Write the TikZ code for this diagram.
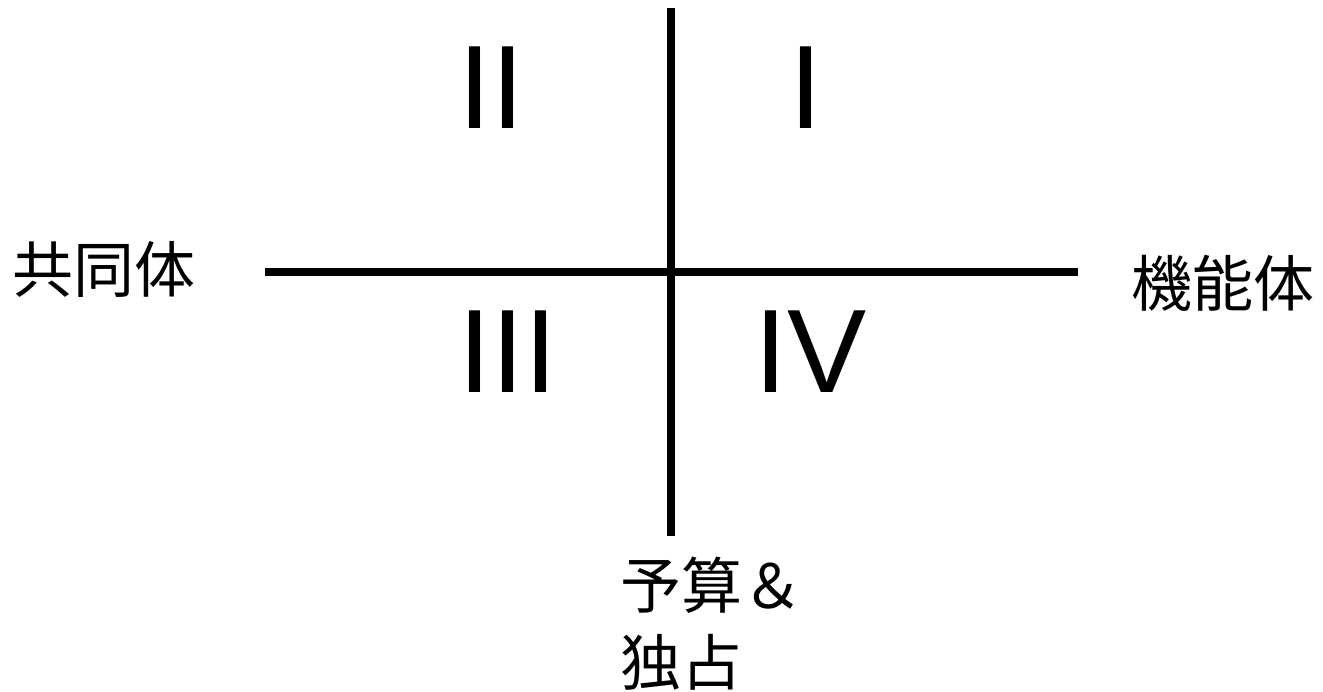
\documentclass[tikz,border=0pt]{standalone}
\usepackage{fontspec}
\setmainfont{Liberation Sans}
\newfontfamily\cjk{Noto Sans CJK JP}
\begin{document}
\begin{tikzpicture}[x=1pt,y=-1pt,
  axis/.style={line width=8pt,line cap=butt},
  roman/.style={inner sep=0pt,font=\fontsize{118.7}{140}\selectfont},
  cjklabel/.style={inner sep=0pt,font=\cjk\fontsize{61}{77}\selectfont}]
\useasboundingbox (0,0) rectangle (1323,692);
\coordinate (top) at (671,8);
\coordinate (bottom) at (671,535.5);
\coordinate (left) at (265,272);
\coordinate (right) at (1078,272);
\draw[axis] (top) -- (bottom);
\draw[axis] (left) -- (right);
\node[roman,anchor=base] (q2) at (491,129) {II};
\node[roman,anchor=base] (q1) at (805.5,129) {I};
\node[roman,anchor=base] (q3) at (508,393) {III};
\node[roman,anchor=base west] (q4) at (753.8,393) {IV};
\node[cjklabel,anchor=center] (comm) at (104,269) {共同体};
\node[cjklabel,anchor=center] (func) at (1223,283) {機能体};
\node[cjklabel,anchor=base west,align=left] (budget) at (620,685) {予算＆\\独占};
\end{tikzpicture}
\end{document}
